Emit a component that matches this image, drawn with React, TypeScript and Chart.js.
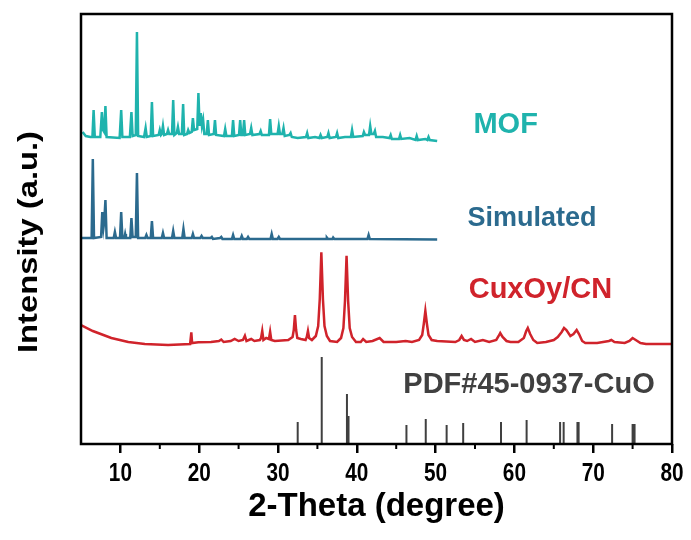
import React, { useEffect, useRef } from "react";
import { Chart, registerables } from "chart.js";

Chart.register(...registerables);

// ---------- axis ----------
const xMin = 5;
const xMax = 80;
const xTickValues = [10, 20, 30, 40, 50, 60, 70, 80];
const xMinorTickValues = [15, 25, 35, 45, 55, 65, 75];
const yMin = 0;
const yMax = 430;

// ---------- MOF (experimental) ----------
const mofX = [5.2, 5.6, 6.2, 6.45, 6.6, 6.75, 7.45, 7.65, 7.8, 7.95, 8.1, 8.25, 9.9, 10.1, 10.25, 11.2, 11.4, 11.55, 11.95, 12.1, 12.25, 13.0, 13.2, 13.35, 13.85, 14.0, 14.15, 14.85, 15.0, 15.15, 15.25, 15.4, 15.55, 15.9, 16.05, 16.2, 16.55, 16.7, 16.85, 17.15, 17.3, 17.45, 17.8, 17.96, 18.1, 18.45, 18.6, 18.75, 19.05, 19.2, 19.35, 19.75, 19.9, 20.05, 20.2, 20.35, 20.5, 20.65, 20.95, 21.1, 21.25, 21.85, 22.0, 22.15, 23.15, 23.3, 23.45, 24.15, 24.3, 24.45, 25.05, 25.2, 25.35, 25.55, 25.7, 25.85, 26.45, 26.6, 26.75, 27.65, 27.8, 27.95, 28.85, 29.0, 29.15, 29.95, 30.1, 30.25, 30.55, 30.7, 30.85, 31.45, 31.6, 31.75, 32.5, 33.55, 33.7, 33.85, 34.7, 35.25, 35.4, 35.55, 36.25, 36.4, 36.55, 37.35, 37.5, 37.65, 38.5, 39.25, 39.4, 39.55, 40.75, 40.9, 41.05, 41.55, 41.7, 41.85, 42.15, 42.3, 42.45, 43.3, 44.15, 44.3, 44.45, 45.35, 45.5, 45.65, 46.7, 47.45, 47.6, 47.75, 48.7, 48.95, 49.1, 49.25, 50.2];
const mofY = [312, 308, 307, 307, 334, 307, 307, 332, 314, 312, 338, 307, 306, 334, 307, 307, 332, 308, 309, 412, 308, 307, 316, 307, 308, 342, 308, 309, 314, 309, 310, 318, 309, 310, 314, 310, 310, 344, 309, 311, 317, 310, 310, 340, 309, 310, 314, 311, 312, 326, 314, 315, 351, 318, 331, 318, 324, 310, 310, 324, 309, 310, 324, 309, 308, 315, 308, 308, 324, 308, 309, 324, 309, 309, 324, 309, 310, 316, 309, 310, 313, 309, 309, 325, 310, 310, 318, 310, 310, 316, 308, 309, 311, 307, 306, 307, 311, 306, 307, 306, 309, 306, 307, 311, 306, 307, 311, 306, 307, 307, 314, 307, 308, 312, 309, 309, 318, 310, 310, 313, 307, 307, 306, 309, 305, 305, 309, 305, 306, 304, 308, 304, 305, 304, 307, 304, 303];

// ---------- Simulated ----------
const simX = [5.1, 6.35, 6.5, 6.65, 7.55, 7.7, 7.85, 7.95, 8.1, 8.25, 9.15, 9.3, 9.45, 9.95, 10.1, 10.25, 10.5, 10.6, 10.7, 11.25, 11.4, 11.55, 11.95, 12.1, 12.25, 13.15, 13.3, 13.45, 13.85, 14.0, 14.15, 15.25, 15.4, 15.55, 16.55, 16.7, 16.85, 17.85, 18.0, 18.15, 19.05, 19.2, 19.35, 20.15, 20.3, 20.45, 21.45, 21.6, 21.75, 22.65, 22.8, 22.95, 24.15, 24.3, 24.45, 25.25, 25.4, 25.55, 26.05, 26.2, 26.35, 29.05, 29.2, 29.35, 29.95, 30.1, 30.25, 33.5, 36.1, 36.2, 36.35, 36.9, 37.0, 37.15, 41.35, 41.5, 41.65, 50.2];
const simY = [206, 206, 285, 206, 207, 232, 216, 222, 244, 206, 206, 212, 206, 206, 232, 206, 206, 210, 206, 206, 226, 207, 207, 271, 206, 206, 209, 206, 206, 223, 206, 206, 211, 206, 206, 213, 206, 206, 215, 206, 206, 210, 206, 206, 208, 206, 206, 207, 205, 206, 207, 205, 205, 209, 205, 205, 208, 205, 205, 207, 205, 205, 210, 205, 205, 207, 205, 205, 205, 206.5, 205, 205, 206.5, 205, 205, 209, 205, 204.5];

// ---------- CuxOy/CN ----------
const cuX = [5.0, 6.5, 8.85, 11.0, 13.1, 16.05, 18.85, 19.0, 19.1, 19.9, 21.5, 22.5, 22.8, 23.1, 24.0, 24.5, 25.0, 25.55, 25.8, 26.0, 26.6, 27.0, 27.7, 27.85, 28.0, 28.15, 28.5, 28.85, 29.0, 29.15, 29.6, 31.3, 31.85, 32.0, 32.15, 32.3, 32.45, 32.9, 33.5, 33.65, 33.8, 33.95, 34.3, 34.8, 35.1, 35.3, 35.5, 35.7, 35.9, 36.2, 36.6, 37.5, 38.0, 38.3, 38.5, 38.7, 38.9, 39.1, 39.4, 39.9, 40.5, 40.8, 41.2, 42.0, 42.9, 43.4, 45.0, 46.2, 47.0, 47.9, 48.3, 48.5, 48.7, 48.9, 49.1, 49.5, 50.2, 52.5, 53.0, 53.3, 53.6, 54.0, 54.5, 55.0, 56.0, 56.8, 57.7, 58.0, 58.2, 58.5, 59.0, 59.5, 60.5, 61.2, 61.5, 61.7, 62.0, 62.4, 62.9, 64.0, 65.0, 65.5, 66.0, 66.3, 66.6, 67.1, 67.5, 67.9, 68.2, 68.6, 69.0, 70.5, 72.0, 72.3, 72.7, 74.0, 74.6, 75.0, 75.4, 76.0, 76.7, 80.0];
const cuY = [119, 113, 106, 102, 100, 99, 100, 111.7, 101, 101.7, 102, 103, 104.5, 102, 103, 105, 103, 104, 108.3, 103, 105, 103, 104, 106, 113, 104, 106, 105, 112.3, 104, 103, 104, 107, 114, 129, 114, 106, 105, 104, 107, 113, 106, 104, 108, 118, 145, 191.7, 145, 118, 108, 103, 102, 106, 116, 143, 188.3, 143, 116, 107, 102, 102, 105, 102, 103, 106, 102, 102, 103, 102, 104, 109, 120, 133, 120, 109, 104, 103, 102, 104, 108, 104, 103, 105, 102, 104, 102, 104, 108, 111, 107, 103, 102, 102, 106, 113, 116, 110, 104, 101, 102, 104, 107, 112, 116, 114, 108, 110, 114, 110, 103, 101, 101, 103, 104, 102, 101, 103, 106, 104, 101, 100, 100];

// ---------- PDF#45-0937 CuO reference sticks ----------
const pdfPositions = [32.5, 35.55, 38.75, 38.95, 46.3, 48.75, 51.4, 53.5, 58.3, 61.55, 65.8, 66.25, 68.0, 68.15, 72.4, 75.0, 75.25];
const pdfIntensities = [22, 87, 50, 28, 19, 25, 19, 21, 22, 24, 22, 22, 22, 22, 20, 20, 20];

// ---------- text ----------
const seriesLabels = ["MOF", "Simulated", "CuxOy/CN", "PDF#45-0937-CuO"];
const xTitle = "2-Theta (degree)";
const yTitle = "Intensity (a.u.)";

const COLORS = ["#1fb3ad", "#2b6a8e", "#d0232b", "#404040"];
const FAMILY = '"Liberation Sans", Arial, Helvetica, sans-serif';

const toPoints = (xs: number[], ys: number[]) => xs.map((x, i) => ({ x, y: ys[i] }));

export default function App() {
  const canvasRef = useRef<HTMLCanvasElement | null>(null);

  useEffect(() => {
    if (!canvasRef.current) return;

    const stickData: { x: number; y: number | null }[] = [];
    pdfPositions.forEach((p, i) => {
      stickData.push({ x: p, y: 0 }, { x: p, y: pdfIntensities[i] }, { x: p, y: null });
    });

    const labelAnchors = [
      { x: 54.8, y: 319, size: 29 },
      { x: 54.05, y: 225, size: 27 },
      { x: 54.2, y: 154, size: 29 },
      { x: 45.9, y: 59, size: 29 },
    ];

    const framePlugin = {
      id: "frameAndLabels",
      afterDatasetsDraw(chart: any) {
        const { ctx, chartArea, scales } = chart;
        const { left, right, top, bottom } = chartArea;
        const xs = scales.x;
        const ys = scales.y;
        ctx.save();
        // series labels
        ctx.textAlign = "left";
        ctx.textBaseline = "middle";
        seriesLabels.forEach((t, i) => {
          ctx.font = `bold ${labelAnchors[i].size}px ${FAMILY}`;
          ctx.fillStyle = COLORS[i];
          ctx.fillText(t, xs.getPixelForValue(labelAnchors[i].x), ys.getPixelForValue(labelAnchors[i].y));
        });
        // frame
        ctx.strokeStyle = "#000";
        ctx.lineWidth = 2.5;
        ctx.strokeRect(left, top, right - left, bottom - top);
        // minor ticks
        ctx.lineWidth = 2;
        xMinorTickValues.forEach((v) => {
          const px = xs.getPixelForValue(v);
          ctx.beginPath();
          ctx.moveTo(px, bottom);
          ctx.lineTo(px, bottom + 5);
          ctx.stroke();
        });
        // major tick labels (condensed bold)
        ctx.fillStyle = "#000";
        ctx.font = `bold 26px ${FAMILY}`;
        ctx.textAlign = "center";
        ctx.textBaseline = "middle";
        xs.ticks.forEach((t: any) => {
          const px = xs.getPixelForValue(t.value);
          ctx.save();
          ctx.translate(px, bottom + 30);
          ctx.scale(0.8, 1);
          ctx.fillText(String(t.value), 0, 0);
          ctx.restore();
        });
        // y-axis title (stretched along its length)
        ctx.save();
        ctx.font = `bold 28px ${FAMILY}`;
        ctx.translate(29, 242);
        ctx.rotate(-Math.PI / 2);
        ctx.scale(1.17, 1);
        ctx.fillText(yTitle, 0, 0);
        ctx.restore();
        ctx.restore();
      },
    };

    const chart = new Chart(canvasRef.current, {
      type: "line",
      data: {
        datasets: [
          {
            label: seriesLabels[0],
            data: toPoints(mofX, mofY),
            borderColor: COLORS[0],
            borderWidth: 2.5,
            pointRadius: 0,
            tension: 0,
          },
          {
            label: seriesLabels[1],
            data: toPoints(simX, simY),
            borderColor: COLORS[1],
            borderWidth: 2.5,
            pointRadius: 0,
            tension: 0,
          },
          {
            label: seriesLabels[2],
            data: toPoints(cuX, cuY),
            borderColor: COLORS[2],
            borderWidth: 2.5,
            pointRadius: 0,
            tension: 0,
          },
          {
            label: seriesLabels[3],
            data: stickData as any,
            borderColor: COLORS[3],
            borderWidth: 2,
            pointRadius: 0,
            spanGaps: false,
            tension: 0,
          },
        ],
      },
      options: {
        responsive: false,
        animation: false,
        layout: { padding: { top: 14, right: 19, left: 0, bottom: 0 } },
        plugins: {
          legend: { display: false },
          tooltip: { enabled: false },
          title: { display: false },
        },
        scales: {
          x: {
            type: "linear",
            min: xMin,
            max: xMax,
            afterBuildTicks: (s: any) => {
              s.ticks = xTickValues.map((v) => ({ value: v }));
            },
            afterFit: (s: any) => {
              s.height = 96;
            },
            ticks: { display: false },
            grid: {
              drawOnChartArea: false,
              drawTicks: true,
              tickLength: 9,
              color: "#000",
              lineWidth: 2.5,
            },
            border: { display: false },
            title: {
              display: true,
              text: xTitle,
              color: "#000",
              font: { family: FAMILY, size: 33, weight: "bold" },
              padding: { top: 0, bottom: 13 },
            },
          },
          y: {
            type: "linear",
            min: yMin,
            max: yMax,
            afterFit: (s: any) => {
              s.width = 81;
            },
            ticks: { display: false },
            grid: { display: false },
            border: { display: false },
            title: { display: false },
          },
        },
      },
      plugins: [framePlugin],
    } as any);

    return () => chart.destroy();
  }, []);

  return (
    <div style={{ position: "fixed", left: 0, top: 0, width: 691, height: 540, background: "#fff" }}>
      <canvas ref={canvasRef} width={691} height={540} style={{ display: "block", width: 691, height: 540 }} />
    </div>
  );
}
